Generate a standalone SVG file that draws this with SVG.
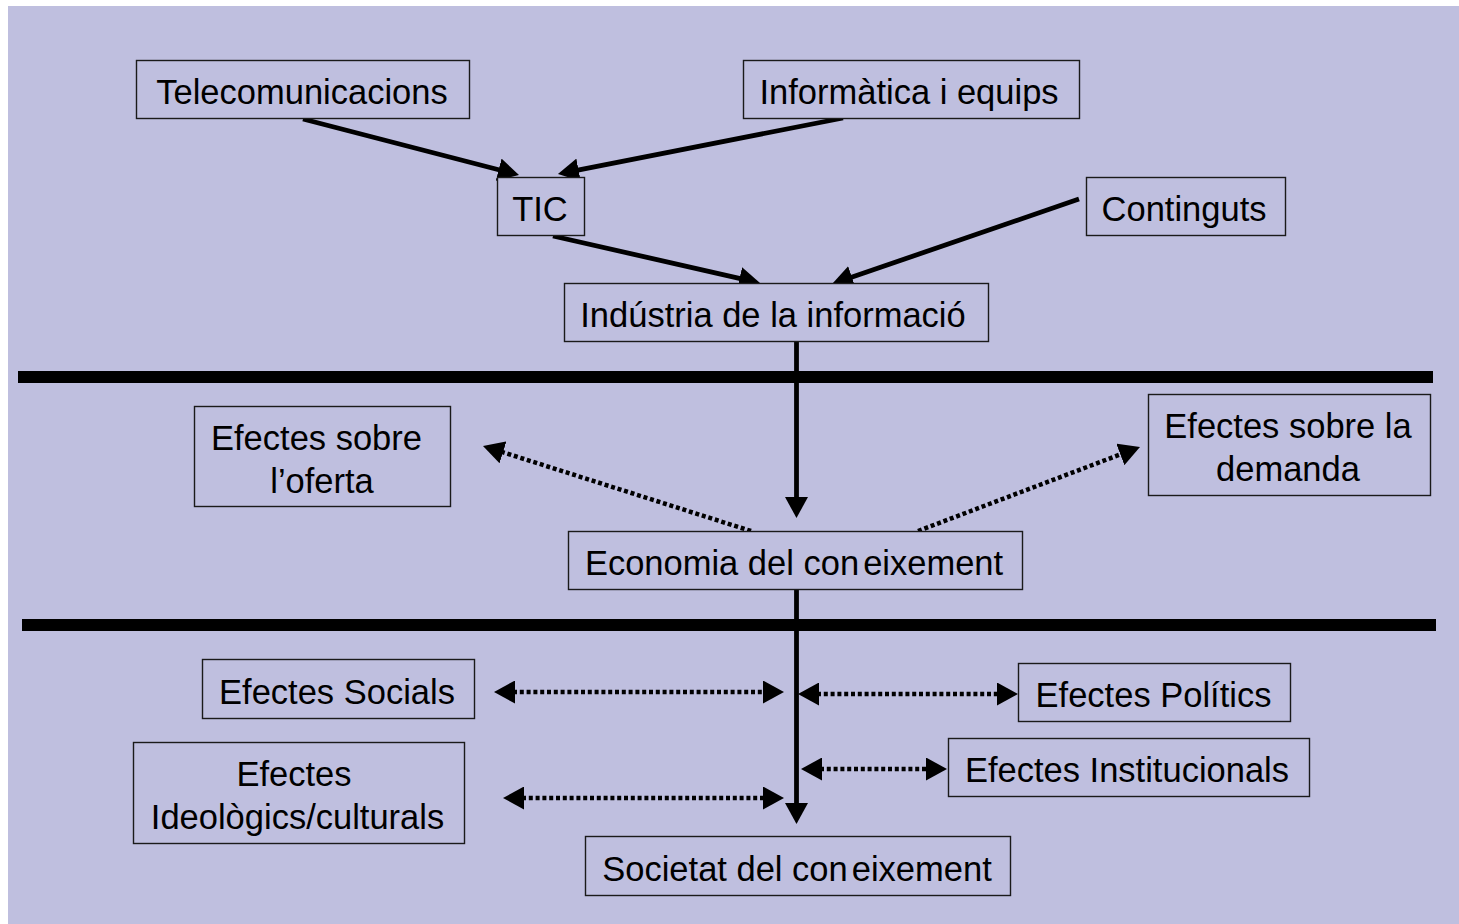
<svg xmlns="http://www.w3.org/2000/svg" width="1459" height="924" viewBox="0 0 1459 924">
<style>
.box{fill:#BFBFDF;stroke:#1a1a1a;stroke-width:1.4}
.t{font-family:"Liberation Sans",Arial,sans-serif;font-size:34.5px;fill:#000;text-anchor:middle}
.solid{stroke:#000;stroke-width:4.8;fill:none;marker-end:url(#ah)}
.dot{stroke:#000;stroke-width:4.5;fill:none;stroke-dasharray:4 2.8;marker-end:url(#ah)}
.dot2{stroke:#000;stroke-width:4.5;fill:none;stroke-dasharray:4 2.8;marker-start:url(#ah);marker-end:url(#ah)}
.bar{fill:#000}
</style>
<defs>
<marker id="ah" viewBox="0 0 21 23" refX="2" refY="11.5" markerWidth="21" markerHeight="23" markerUnits="userSpaceOnUse" orient="auto-start-reverse">
<path d="M0,0 L21,11.5 L0,23 Z" fill="#000"/>
</marker>
</defs>
<rect x="0" y="0" width="1459" height="924" fill="#fff"/>
<rect x="8" y="6" width="1451" height="918" fill="#BFBFDF"/>
<g id="separators">
<rect class="bar" x="18" y="371" width="1415" height="12"/>
<rect class="bar" x="22" y="619" width="1414" height="12"/>
</g>
<g id="connectors">
<line class="solid" x1="303" y1="119" x2="500.6" y2="170.2"/>
<line class="solid" x1="843" y1="118" x2="576.6" y2="170.3"/>
<line class="solid" x1="553" y1="236" x2="741.5" y2="278.8"/>
<line class="solid" x1="1079" y1="199" x2="850" y2="277.8"/>
<line class="solid" x1="796.5" y1="342" x2="796.5" y2="499"/>
<line class="solid" x1="796.5" y1="589" x2="796.5" y2="805"/>
<line class="dot" x1="751" y1="531" x2="501.1" y2="451.7"/>
<line class="dot" x1="918" y1="531" x2="1122.2" y2="453.7"/>
<line class="dot2" x1="513" y1="692" x2="765" y2="692"/>
<line class="dot2" x1="522" y1="798" x2="765" y2="798"/>
<line class="dot2" x1="817" y1="694" x2="999" y2="694"/>
<line class="dot2" x1="820" y1="769" x2="928" y2="769"/>
</g>
<g id="telecomunicacions"><rect class="box" x="136.5" y="60.5" width="333" height="58"/><text class="t" x="302" y="104">Telecomunicacions</text></g>
<g id="informatica"><rect class="box" x="743.5" y="60.5" width="336" height="58"/><text class="t" x="909" y="103.5">Informàtica i equips</text></g>
<g id="tic"><rect class="box" x="497.5" y="177.5" width="87" height="58"/><text class="t" x="540" y="221">TIC</text></g>
<g id="continguts"><rect class="box" x="1086.5" y="177.5" width="199" height="58"/><text class="t" x="1184" y="220.5">Continguts</text></g>
<g id="industria"><rect class="box" x="564.5" y="283.5" width="424" height="58"/><text class="t" x="773" y="326.5">Indústria de la informació</text></g>
<g id="oferta"><rect class="box" x="194.5" y="406.5" width="256" height="100"/><text class="t" x="316.5" y="449.5">Efectes sobre</text><text class="t" x="322" y="492.5">l’oferta</text></g>
<g id="economia"><rect class="box" x="568.5" y="531.5" width="454" height="58"/><text class="t" x="794" y="574.5">Economia del con<tspan dx="4">eixement</tspan></text></g>
<g id="demanda"><rect class="box" x="1148.5" y="394.5" width="282" height="101"/><text class="t" x="1288" y="437.5">Efectes sobre la</text><text class="t" x="1288" y="480.5">demanda</text></g>
<g id="socials"><rect class="box" x="202.5" y="659.5" width="272" height="59"/><text class="t" x="337" y="703.5">Efectes Socials</text></g>
<g id="ideologics"><rect class="box" x="133.5" y="742.5" width="331" height="101"/><text class="t" x="294" y="785.5">Efectes</text><text class="t" x="297.5" y="828.5">Ideològics/culturals</text></g>
<g id="societat"><rect class="box" x="585.5" y="836.5" width="425" height="59"/><text class="t" x="797" y="881">Societat del con<tspan dx="4">eixement</tspan></text></g>
<g id="politics"><rect class="box" x="1018.5" y="663.5" width="272" height="58"/><text class="t" x="1153.5" y="707">Efectes Polítics</text></g>
<g id="institucionals"><rect class="box" x="948.5" y="738.5" width="361" height="58"/><text class="t" x="1127" y="781.5">Efectes Institucionals</text></g>
</svg>
